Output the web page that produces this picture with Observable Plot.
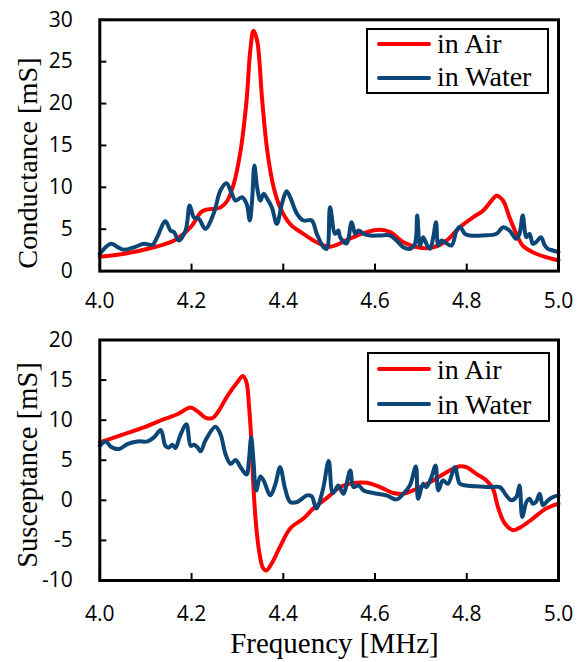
<!DOCTYPE html>
<html><head><meta charset="utf-8">
<script src="https://cdn.jsdelivr.net/npm/d3@7"></script>
<script src="https://cdn.jsdelivr.net/npm/@observablehq/plot@0.6"></script>
<style>
html,body{margin:0;padding:0;background:#fff;}
#root{position:relative;width:578px;height:662px;overflow:hidden;background:#fff;}
.abs{position:absolute;}
.serif{font-family:"Liberation Serif","Times New Roman",serif;color:#000;white-space:nowrap;line-height:1;}
.legend{position:absolute;box-sizing:border-box;border:2px solid #000;background:#fff;}
.lline{position:absolute;height:4px;border-radius:2px;}
</style></head><body><div id="root"></div>
<script>
// ---------- data ----------
const seriesNames = ["in Air", "in Water"];
const xTicks = [4.0, 4.2, 4.4, 4.6, 4.8, 5.0];
const gTicks = [0, 5, 10, 15, 20, 25, 30];
const bTicks = [-10, -5, 0, 5, 10, 15, 20];

// Conductance in Air
const airG_f = [4.000,4.053,4.118,4.162,4.198,4.220,4.230,4.263,4.278,4.292,4.307,4.320,4.328,4.335,4.343,4.354,4.365,4.379,4.393,4.415,4.444,4.473,4.502,4.546,4.582,4.611,4.633,4.662,4.698,4.727,4.756,4.785,4.814,4.836,4.854,4.865,4.879,4.893,4.908,4.922,4.944,4.973,5.000];
const airG_v = [1.7,2.06,2.85,3.65,5.24,7.0,7.3,7.6,8.4,10.4,14.4,20.4,26.3,28.7,27.5,20.4,14.4,10.0,7.6,5.6,4.45,3.45,2.9,3.9,4.65,4.93,4.65,3.45,2.78,2.85,3.65,5.24,6.43,7.23,8.42,9.0,8.42,6.43,4.45,3.05,2.26,1.66,1.26];

// Conductance in Water
const watG_f = [4.000,4.024,4.038,4.053,4.075,4.096,4.115,4.125,4.143,4.154,4.162,4.172,4.187,4.196,4.205,4.216,4.230,4.248,4.263,4.276,4.288,4.296,4.310,4.320,4.327,4.332,4.337,4.343,4.350,4.357,4.365,4.375,4.386,4.397,4.407,4.415,4.430,4.444,4.462,4.473,4.488,4.495,4.502,4.513,4.520,4.524,4.538,4.549,4.557,4.564,4.575,4.589,4.611,4.633,4.647,4.662,4.676,4.687,4.692,4.698,4.705,4.712,4.720,4.727,4.733,4.738,4.745,4.756,4.767,4.778,4.785,4.796,4.807,4.835,4.865,4.879,4.893,4.908,4.915,4.922,4.930,4.937,4.944,4.951,4.962,4.970,4.977,4.988,5.000];
const watG_v = [2.06,3.26,2.9,2.54,2.85,3.26,3.14,4.05,5.95,4.85,4.64,3.65,4.85,7.83,6.43,6.24,5.05,6.84,9.62,10.5,9.22,8.42,8.82,8.03,6.04,8.42,12.6,10.0,8.42,9.22,8.63,7.63,5.64,8.03,9.53,8.82,6.84,6.04,6.04,4.45,2.85,2.66,7.63,4.45,4.85,4.05,3.3,5.84,4.45,4.85,4.45,4.25,4.25,4.25,3.65,2.85,2.66,3.26,6.63,3.06,4.05,3.26,2.66,4.05,5.84,3.06,3.65,3.3,3.06,4.85,5.3,4.45,4.25,4.25,4.45,5.24,4.85,3.85,4.45,6.63,4.05,4.45,3.26,3.45,4.05,3.06,2.66,2.46,2.26];

// Susceptance in Air
const airB_f = [4.000,4.053,4.096,4.140,4.169,4.198,4.212,4.230,4.245,4.259,4.278,4.299,4.312,4.320,4.325,4.330,4.335,4.341,4.348,4.356,4.363,4.375,4.393,4.415,4.444,4.466,4.495,4.524,4.553,4.582,4.611,4.640,4.662,4.691,4.727,4.756,4.785,4.799,4.821,4.843,4.857,4.868,4.883,4.901,4.919,4.944,4.973,5.000];
const airB_v = [7.23,8.26,9.09,10.12,10.74,11.57,11.15,10.33,10.25,11.15,13.0,14.66,15.5,14.66,11.98,7.85,1.65,-3.3,-6.6,-8.47,-8.76,-7.85,-5.78,-3.51,-2.27,-1.0,0.3,1.65,2.15,2.19,1.65,0.91,0.83,1.45,2.48,3.51,4.25,4.13,3.3,2.48,1.45,-0.83,-2.89,-3.72,-3.3,-2.27,-1.03,-0.41];

// Susceptance in Water
const watB_f = [4.000,4.013,4.024,4.042,4.060,4.082,4.104,4.118,4.133,4.143,4.151,4.158,4.165,4.175,4.189,4.198,4.205,4.212,4.220,4.230,4.252,4.263,4.274,4.285,4.296,4.307,4.320,4.325,4.330,4.335,4.341,4.350,4.357,4.372,4.383,4.393,4.404,4.415,4.430,4.452,4.462,4.472,4.486,4.499,4.508,4.520,4.531,4.546,4.553,4.564,4.575,4.596,4.625,4.647,4.662,4.676,4.689,4.694,4.705,4.712,4.723,4.732,4.738,4.748,4.759,4.774,4.785,4.799,4.828,4.854,4.872,4.886,4.897,4.908,4.915,4.921,4.930,4.937,4.944,4.951,4.959,4.966,4.977,4.988,5.000];
const watB_v = [6.8,7.35,6.69,6.4,7.02,7.35,7.35,7.85,8.76,6.8,6.6,6.94,6.53,8.05,9.5,6.8,6.94,6.69,6.11,7.43,9.17,8.26,5.78,4.54,5.04,4.13,3.22,4.96,7.85,4.96,1.24,2.97,2.48,0.62,2.07,4.13,1.45,-0.21,-0.21,0.62,0.5,-1.03,1.24,4.9,0.9,1.86,0.83,3.72,1.65,1.86,1.24,0.91,0.62,0.12,0.83,1.86,4.21,0.21,2.07,1.65,2.89,4.34,1.24,2.48,2.07,4.13,2.07,1.86,1.73,1.65,1.65,0.62,0.0,0.41,1.86,-2.07,-0.21,0.2,-0.41,-0.2,0.83,-0.62,0.0,0.41,0.62];

const RED = "#ff0000", BLUE = "#0b4677";

// ---------- build ----------
function rows(fs, vs, s) { return fs.map((f, i) => ({f, v: vs[i], series: s})); }
const condData = [...rows(airG_f, airG_v, seriesNames[0]), ...rows(watG_f, watG_v, seriesNames[1])];
const suscData = [...rows(airB_f, airB_v, seriesNames[0]), ...rows(watB_f, watB_v, seriesNames[1])];

const W = 578, ML = 99.3, MR = 20;
function panel(data, yDomain, yTicks, height, mt, mb, xPad) {
  const innerW = W - ML - MR, innerH = height - mt - mb;
  return Plot.plot({
    width: W, height, marginLeft: ML, marginRight: MR, marginTop: mt, marginBottom: mb,
    style: {background: "transparent", color: "#000"},
    x: {domain: [4, 5]},
    y: {domain: yDomain},
    color: {type: "ordinal", domain: seriesNames, range: [RED, BLUE]},
    marks: [
      Plot.line(data, {x: "f", y: "v", z: "series", stroke: "series", strokeWidth: 4,
        curve: "catmull-rom", strokeLinejoin: "round", strokeLinecap: "round"}),
      Plot.tickY(yTicks, {y: d => d, insetRight: innerW - 7, stroke: "#000", strokeWidth: 2}),
      Plot.tickX(xTicks, {x: d => d, insetTop: innerH - 7, stroke: "#000", strokeWidth: 2}),
      Plot.frame({stroke: "#000", strokeWidth: 3}),
      Plot.axisY(yTicks, {tickSize: 0, tickPadding: 27, fontSize: 21, fontFamily: "Open Sans",
        tickFormat: d => String(d), label: null}),
      Plot.axisX(xTicks, {tickSize: 0, tickPadding: xPad, fontSize: 21, fontFamily: "Open Sans",
        tickFormat: d => d.toFixed(1), label: null})
    ]
  });
}

const root = document.getElementById("root");
const p1 = panel(condData, [0, 30], gTicks, 320, 19.3, 49.4, 22);
p1.classList.add("abs"); p1.style.left = "0px"; p1.style.top = "0px";
root.appendChild(p1);
const p2 = panel(suscData, [-10, 20], bTicks, 342, 19.5, 82, 26);
p2.classList.add("abs"); p2.style.left = "0px"; p2.style.top = "320px";
root.appendChild(p2);

function addText(txt, left, top, size, extra) {
  const d = document.createElement("div");
  d.className = "abs serif";
  d.textContent = txt;
  d.style.left = left + "px"; d.style.top = top + "px"; d.style.fontSize = size + "px";
  if (extra) Object.assign(d.style, extra);
  root.appendChild(d);
  return d;
}
function addLegend(box, l1, l2, t1, t2) {
  const b = document.createElement("div");
  b.className = "legend";
  Object.assign(b.style, {left: box[0] + "px", top: box[1] + "px", width: box[2] + "px", height: box[3] + "px"});
  root.appendChild(b);
  [[l1, RED], [l2, BLUE]].forEach(([y, c]) => {
    const ln = document.createElement("div");
    ln.className = "lline";
    Object.assign(ln.style, {left: "377px", top: (y - 2) + "px", width: "54px", background: c});
    root.appendChild(ln);
  });
  addText(seriesNames[0], 437, t1, 28);
  addText(seriesNames[1], 437, t2, 28);
}
addLegend([366, 28.3, 183.3, 65.7], 44.3, 77.7, 29.9, 63.3);
addLegend([366.7, 352.3, 183.3, 70], 369, 404.3, 355.6, 390.6);

addText("Conductance [mS]", 27.5, 162.5, 28.3, {transform: "translate(-50%,-50%) rotate(-90deg)"});
addText("Susceptance [mS]", 27.5, 465, 28.6, {transform: "translate(-50%,-50%) rotate(-90deg)"});
addText("Frequency [MHz]", 334.5, 628.7, 29, {transform: "translateX(-50%)"});
</script></body></html>
